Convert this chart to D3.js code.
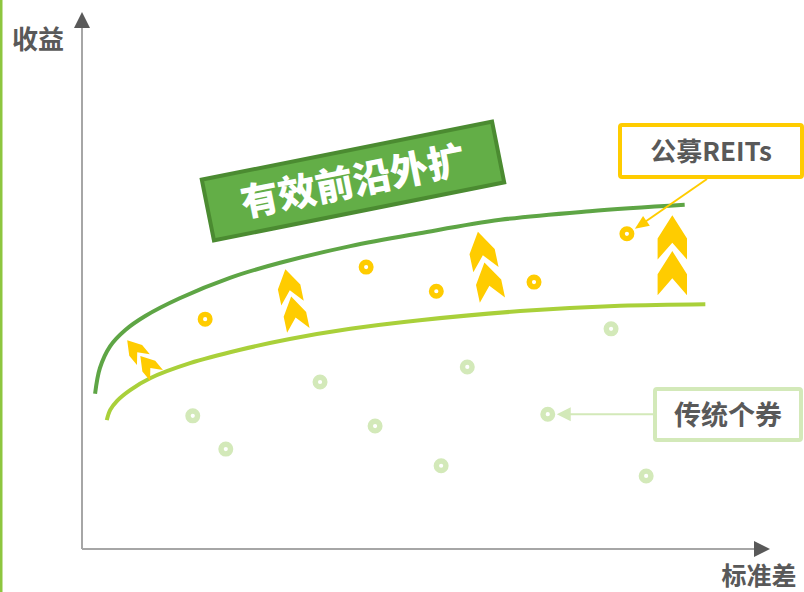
<!DOCTYPE html>
<html>
<head>
<meta charset="utf-8">
<script src="https://cdn.jsdelivr.net/npm/d3@7"></script>
<style>
  body { margin: 0; background: #fff; }
  svg { display: block; font-family: "Noto Sans CJK SC", "Noto Sans", sans-serif; }
</style>
</head>
<body>
<div id="wrapper"></div>
<script>
// data (arbitrary units: x = 标准差, y = 收益)
const reitsX = [17.9, 41.3, 51.5, 65.7, 79.2]
const reitsY = [42.8, 52.5, 48.0, 49.7, 58.7]
const bondsX = [16.1, 20.9, 34.6, 42.6, 52.2, 56.0, 67.7, 76.9, 82.0]
const bondsY = [24.8, 18.6, 31.1, 22.9, 15.5, 33.9, 25.1, 41.0, 13.6]
const newFrontierX = [1.9, 2.6, 4.1, 6.3, 9.2, 14.2, 21.5, 28.8, 39.0, 49.1, 60.8, 73.8, 87.6]
const newFrontierY = [28.9, 33.7, 37.8, 40.8, 43.4, 46.7, 50.5, 53.3, 56.4, 58.8, 61.3, 62.9, 64.1]
const oldFrontierX = [3.6, 4.1, 5.1, 7.0, 9.9, 15.7, 23.0, 30.2, 39.0, 49.1, 63.7, 78.2, 90.6]
const oldFrontierY = [24.0, 25.9, 27.6, 29.6, 31.8, 34.6, 37.1, 39.1, 41.0, 42.6, 44.3, 45.3, 45.6]
const shiftX = [8.7, 30.5, 58.6, 85.8]
const shiftY = [35.6, 46.4, 52.7, 54.7]
const labels = { y: "收益", x: "标准差", banner: "有效前沿外扩", reits: "公募REITs", bonds: "传统个券" }

const dims = { width: 804, height: 592 }
const colors = {
    text: "#595959",
    axis: "#a6a6a6",
    yellow: "#ffcc00",
    dark: "#5ea545",
    light: "#a9d03a",
    pale: "#d3e9b9",
}

const svg = d3.select("#wrapper").append("svg")
    .attr("width", dims.width)
    .attr("height", dims.height)

// left green stripe
svg.append("rect").attr("x", 0).attr("y", 0).attr("width", 2.5).attr("height", dims.height).attr("fill", "#8dc63f")

const x = d3.scaleLinear().domain([0, 100]).range([82, 770])
const y = d3.scaleLinear().domain([0, 100]).range([549, 12])

// axes
svg.append("line").attr("x1", x(0)).attr("x2", x(100) - 14).attr("y1", y(0)).attr("y2", y(0))
    .attr("stroke", colors.axis).attr("stroke-width", 2)
svg.append("line").attr("x1", x(0)).attr("x2", x(0)).attr("y1", y(0)).attr("y2", y(100) + 14)
    .attr("stroke", colors.axis).attr("stroke-width", 2)
svg.append("path")
    .attr("d", `M${x(100)},${y(0)} L${x(100) - 16},${y(0) - 8} L${x(100) - 16},${y(0) + 8}Z`)
    .attr("fill", colors.text)
svg.append("path")
    .attr("d", `M${x(0)},${y(100)} L${x(0) - 8},${y(100) + 16} L${x(0) + 8},${y(100) + 16}Z`)
    .attr("fill", colors.text)

svg.append("text").attr("x", 38).attr("y", 49).attr("text-anchor", "middle")
    .attr("font-size", 26).attr("font-weight", 700).attr("fill", colors.text).text(labels.y)
svg.append("text").attr("x", 759).attr("y", 585).attr("text-anchor", "middle")
    .attr("font-size", 25).attr("font-weight", 700).attr("fill", colors.text).text(labels.x)

// frontier curves
const line = d3.line().x(d => x(d[0])).y(d => y(d[1])).curve(d3.curveCatmullRom.alpha(0.5))
svg.append("path").attr("d", line(d3.zip(newFrontierX, newFrontierY)))
    .attr("fill", "none").attr("stroke", colors.dark).attr("stroke-width", 4)
svg.append("path").attr("d", line(d3.zip(oldFrontierX, oldFrontierY)))
    .attr("fill", "none").attr("stroke", colors.light).attr("stroke-width", 4)

// double chevrons showing upward shift
const chevron = [[0,-38],[14,-16],[14,4],[0,-12],[-14,4],[-14,-16]]
const chevron2 = chevron.map(p => [p[0], p[1] + 34])
const shiftStyle = [{ r: -40, s: 0.6 }, { r: -12, s: 0.82 }, { r: -12, s: 0.92 }, { r: 0, s: 1.05 }]
shiftX.forEach((v, i) => {
    const g = svg.append("g")
        .attr("transform", `translate(${x(v)},${y(shiftY[i])}) rotate(${shiftStyle[i].r}) scale(${shiftStyle[i].s})`)
    ;[chevron, chevron2].forEach(c => g.append("polygon")
        .attr("points", c.map(p => p.join(",")).join(" "))
        .attr("fill", colors.yellow))
})

// ring markers
const ring = (xs, ys, col) => svg.append("g").selectAll("circle")
    .data(d3.zip(xs, ys)).join("circle")
    .attr("cx", d => x(d[0])).attr("cy", d => y(d[1]))
    .attr("r", 4.8).attr("fill", "#fff").attr("stroke", col).attr("stroke-width", 5.4)
ring(bondsX, bondsY, colors.pale)
ring(reitsX, reitsY, colors.yellow)

// banner
const banner = svg.append("g").attr("transform", "translate(353,181) rotate(-11.3)")
banner.append("rect").attr("x", -148).attr("y", -31).attr("width", 296).attr("height", 62)
    .attr("fill", "#63ae47").attr("stroke", "#4b8b31").attr("stroke-width", 4)
banner.append("text").attr("x", 0).attr("y", 14).attr("text-anchor", "middle")
    .attr("font-size", 38).attr("font-weight", 900).attr("fill", "#fff").text(labels.banner)

// callout: 公募REITs
const rp = [x(reitsX[4]), y(reitsY[4])]
svg.append("line").attr("x1", 707).attr("y1", 179).attr("x2", rp[0] + 14).attr("y2", rp[1] - 9)
    .attr("stroke", colors.yellow).attr("stroke-width", 2)
const ang = Math.atan2(rp[1] - 179, rp[0] - 707) * 180 / Math.PI
svg.append("path").attr("d", "M0,0 L-14,-6 L-14,6Z").attr("fill", colors.yellow)
    .attr("transform", `translate(${rp[0] + 8},${rp[1] - 5}) rotate(${ang})`)
svg.append("rect").attr("x", 620).attr("y", 125).attr("width", 182).attr("height", 52).attr("rx", 2)
    .attr("fill", "#fff").attr("stroke", colors.yellow).attr("stroke-width", 4)
svg.append("text").attr("x", 711).attr("y", 161).attr("text-anchor", "middle")
    .attr("font-size", 26).attr("font-weight", 700).attr("fill", colors.text).text(labels.reits)

// callout: 传统个券
const bp = [x(bondsX[6]), y(bondsY[6])]
svg.append("line").attr("x1", 655).attr("y1", bp[1]).attr("x2", bp[0] + 18).attr("y2", bp[1])
    .attr("stroke", colors.pale).attr("stroke-width", 2)
svg.append("path").attr("d", `M${bp[0] + 9},${bp[1]} L${bp[0] + 23},${bp[1] - 7} L${bp[0] + 23},${bp[1] + 7}Z`)
    .attr("fill", colors.pale)
svg.append("rect").attr("x", 655).attr("y", 389).attr("width", 146).attr("height", 51).attr("rx", 2)
    .attr("fill", "#fff").attr("stroke", colors.pale).attr("stroke-width", 4)
svg.append("text").attr("x", 728).attr("y", 425).attr("text-anchor", "middle")
    .attr("font-size", 27).attr("font-weight", 700).attr("fill", colors.text).text(labels.bonds)
</script>
</body>
</html>
